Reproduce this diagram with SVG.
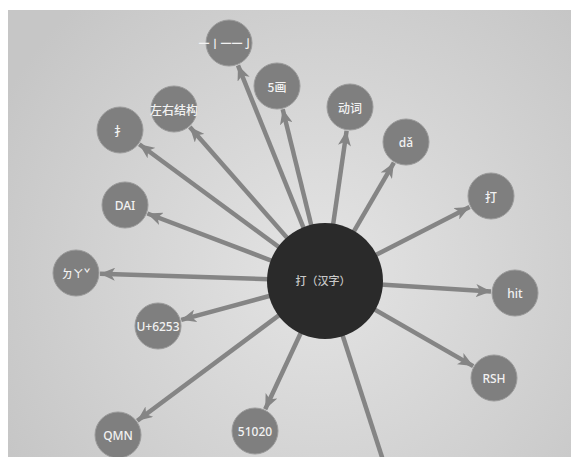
<svg xmlns="http://www.w3.org/2000/svg" width="571" height="457" viewBox="0 0 571 457">
<defs>
<radialGradient id="bg" gradientUnits="userSpaceOnUse" cx="320" cy="270" r="360">
<stop offset="0" stop-color="#e4e4e4"/>
<stop offset="1" stop-color="#c6c6c6"/>
</radialGradient>
<marker id="ah" markerUnits="userSpaceOnUse" markerWidth="16" markerHeight="13" refX="15" refY="6.5" orient="auto" viewBox="0 0 16 13">
<path d="M0,0 L15,6.5 L0,13 L4,6.5 Z" fill="#858585"/>
</marker>
<style>
.e{stroke:#858585;stroke-width:4.5;fill:none}
.a{marker-end:url(#ah)}
.n circle{fill:#7f7f7f;stroke:#9a9a9a;stroke-width:1}
.n text{fill:#f2f2f2;font-family:"Noto Sans","Noto Sans CJK SC",sans-serif;font-size:12px;font-weight:500;text-anchor:middle;dominant-baseline:central}
</style>
</defs>
<rect width="571" height="457" fill="#ffffff"/>
<rect x="8" y="10" width="563" height="447" fill="url(#bg)"/>
<g id="connectors">
<line class="e a" x1="325" y1="281" x2="238" y2="65.3"/>
<line class="e a" x1="325" y1="281" x2="282.7" y2="109.3"/>
<line class="e a" x1="325" y1="281" x2="346.6" y2="130.8"/>
<line class="e a" x1="325" y1="281" x2="393.9" y2="162.7"/>
<line class="e a" x1="325" y1="281" x2="469.6" y2="206.9"/>
<line class="e a" x1="325" y1="281" x2="491" y2="291.5"/>
<line class="e a" x1="325" y1="281" x2="473.2" y2="366.1"/>
<line class="e a" x1="325" y1="281" x2="265.2" y2="409.3"/>
<line class="e a" x1="325" y1="281" x2="137.3" y2="420.7"/>
<line class="e a" x1="325" y1="281" x2="181.2" y2="319.8"/>
<line class="e a" x1="325" y1="281" x2="100" y2="273.8"/>
<line class="e a" x1="325" y1="281" x2="147.4" y2="213.5"/>
<line class="e a" x1="325" y1="281" x2="139.3" y2="144.2"/>
<line class="e a" x1="325" y1="281" x2="189.8" y2="127"/>
<line class="e" x1="325" y1="281" x2="392" y2="488"/>
</g>
<g id="center">
<circle cx="325" cy="281" r="58" fill="#2a2a2a"/>
<text x="323" y="280" fill="#c8c8c8" font-family="'Noto Sans CJK SC','Noto Sans',sans-serif" font-size="11" font-weight="500" text-anchor="middle" dominant-baseline="central">打（汉字）</text>
</g>
<g id="n-strokes" class="n"><circle cx="229" cy="43" r="23"/><text x="226" y="43" style="font-size:11px;font-family:'Noto Sans CJK SC',sans-serif">一丨一一亅</text></g>
<g id="n-5hua" class="n"><circle cx="277" cy="86" r="23"/><text x="277" y="86" style="font-family:'Noto Sans CJK SC',sans-serif">5画</text></g>
<g id="n-dongci" class="n"><circle cx="350" cy="107" r="23"/><text x="350" y="107" style="font-family:'Noto Sans CJK SC',sans-serif">动词</text></g>
<g id="n-da" class="n"><circle cx="406" cy="142" r="23"/><text x="406" y="142">dǎ</text></g>
<g id="n-trad" class="n"><circle cx="491" cy="196" r="23"/><text x="491" y="196" style="font-family:'Noto Sans CJK TC',sans-serif">打</text></g>
<g id="n-hit" class="n"><circle cx="515" cy="293" r="23"/><text x="515" y="293">hit</text></g>
<g id="n-rsh" class="n"><circle cx="494" cy="378" r="23"/><text x="494" y="378">RSH</text></g>
<g id="n-51020" class="n"><circle cx="255" cy="431" r="23"/><text x="255" y="431">51020</text></g>
<g id="n-qmn" class="n"><circle cx="118" cy="435" r="23"/><text x="118" y="435">QMN</text></g>
<g id="n-unicode" class="n"><circle cx="158" cy="326" r="23"/><text x="158" y="326">U+6253</text></g>
<g id="n-zhuyin" class="n"><circle cx="76" cy="273" r="23"/><text x="76" y="273" style="font-size:11px;font-family:'Noto Sans CJK TC',sans-serif">ㄉㄚˇ</text></g>
<g id="n-dai" class="n"><circle cx="125" cy="205" r="23"/><text x="125" y="205">DAI</text></g>
<g id="n-radical" class="n"><circle cx="120" cy="130" r="23"/><text x="120" y="130" style="font-family:'Noto Sans CJK SC',sans-serif">扌</text></g>
<g id="n-structure" class="n"><circle cx="174" cy="109" r="23"/><text x="174" y="109" style="font-family:'Noto Sans CJK SC',sans-serif">左右结构</text></g>
</svg>
